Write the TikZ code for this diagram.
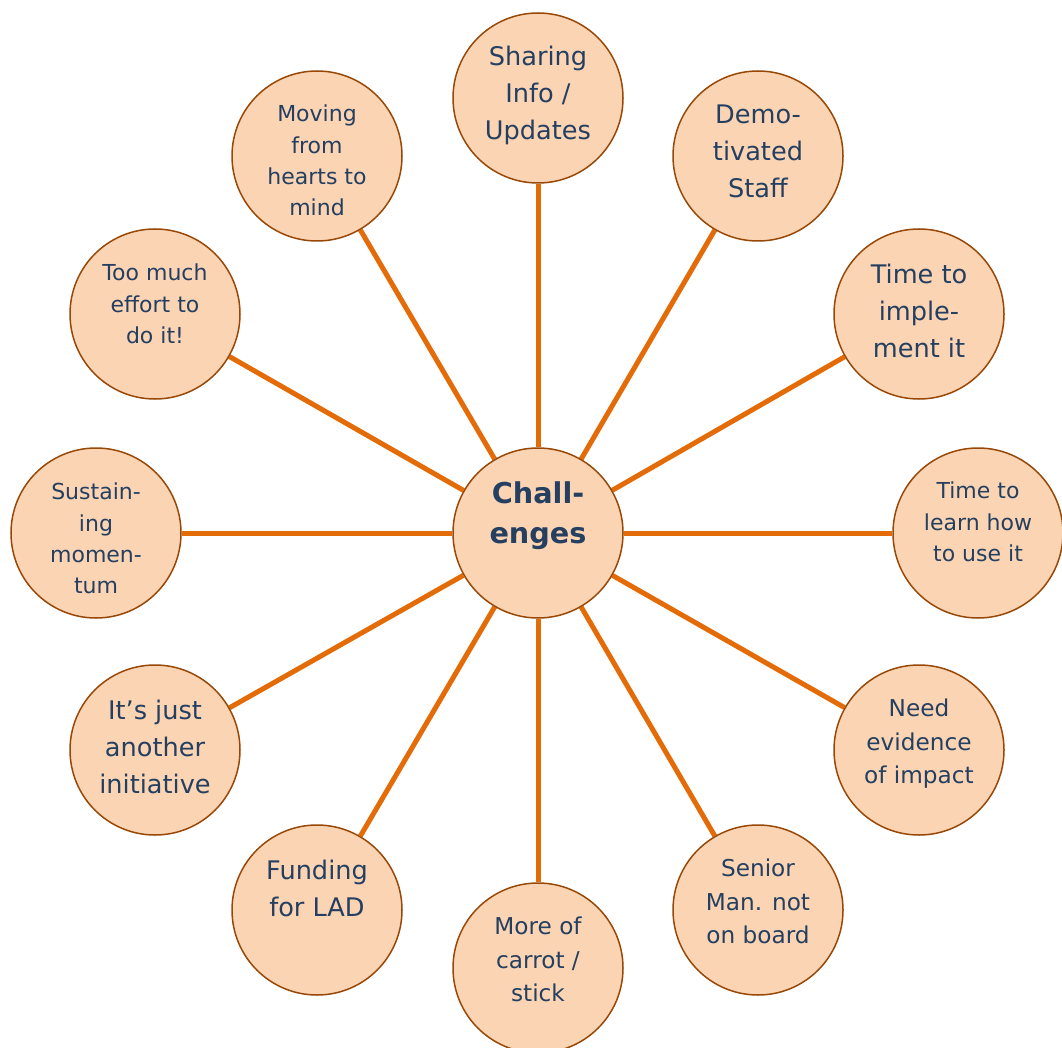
\documentclass[tikz,border=0pt]{standalone}
\usepackage{fontspec}
\setmainfont{DejaVu Sans}
\usetikzlibrary{backgrounds}
\definecolor{peach}{HTML}{FBD4B4}
\definecolor{rim}{HTML}{984806}
\definecolor{spoke}{HTML}{E36C09}
\definecolor{ink}{HTML}{243F60}
\tikzset{
  bubble/.style={circle, draw=rim, fill=peach, line width=1.5pt, minimum size=170pt, inner sep=0pt},
  lbl/.style={anchor=north, align=center, inner sep=0pt, text=ink},
  txtbig/.style={lbl, font=\fontsize{25.6}{37}\selectfont},
  txtmid/.style={lbl, font=\fontsize{23.2}{33.5}\selectfont},
  txtsmall/.style={lbl, font=\fontsize{22}{31.3}\selectfont},
  txtbold/.style={lbl, font=\fontsize{28.7}{40}\selectfont\bfseries},
  spokeline/.style={draw=spoke, line width=5pt},
}
\begin{document}
\begin{tikzpicture}[x=1pt,y=-1pt]
\useasboundingbox (0,0) rectangle (1062,1048);
\node[bubble] (c0) at (538,533) {};
\node[bubble] (c1) at (538,98) {};
\node[bubble] (c2) at (758,156) {};
\node[bubble] (c3) at (919,314) {};
\node[bubble] (c4) at (978,533) {};
\node[bubble] (c5) at (919,750) {};
\node[bubble] (c6) at (758,910) {};
\node[bubble] (c7) at (538,968) {};
\node[bubble] (c8) at (317,910) {};
\node[bubble] (c9) at (155,750) {};
\node[bubble] (c10) at (96,533) {};
\node[bubble] (c11) at (155,314) {};
\node[bubble] (c12) at (317,156) {};
\begin{scope}[on background layer]
\foreach \k in {1,...,12} \draw[spokeline] (c0) -- (c\k);
\end{scope}
\node[txtbold] (t0) at (538,481) {Chall-\\enges};
\node[txtbig] (t1) at (538,46) {Sharing\\Info /\\Updates};
\node[txtbig] (t2) at (758,105) {Demo-\\tivated\\Staff};
\node[txtbig] (t3) at (919,264) {Time to\\imple-\\ment it};
\node[txtsmall] (t4) at (978,482) {Time to\\learn how\\to use it};
\node[txtmid] (t5) at (919,699) {Need\\evidence\\of impact};
\node[txtmid] (t6) at (758,859) {Senior\\Man. not\\on board};
\node[txtmid] (t7) at (538,917) {More of\\carrot /\\stick};
\node[txtbig] (t8) at (317,860) {Funding\\for LAD};
\node[txtbig] (t9) at (155,700) {It’s just\\another\\initiative};
\node[txtsmall] (t10) at (96,483) {Sustain-\\ing\\momen-\\tum};
\node[txtsmall] (t11) at (155,264) {Too much\\effort to\\do it!};
\node[txtsmall] (t12) at (317,105) {Moving\\from\\hearts to\\mind};
\end{tikzpicture}
\end{document}
